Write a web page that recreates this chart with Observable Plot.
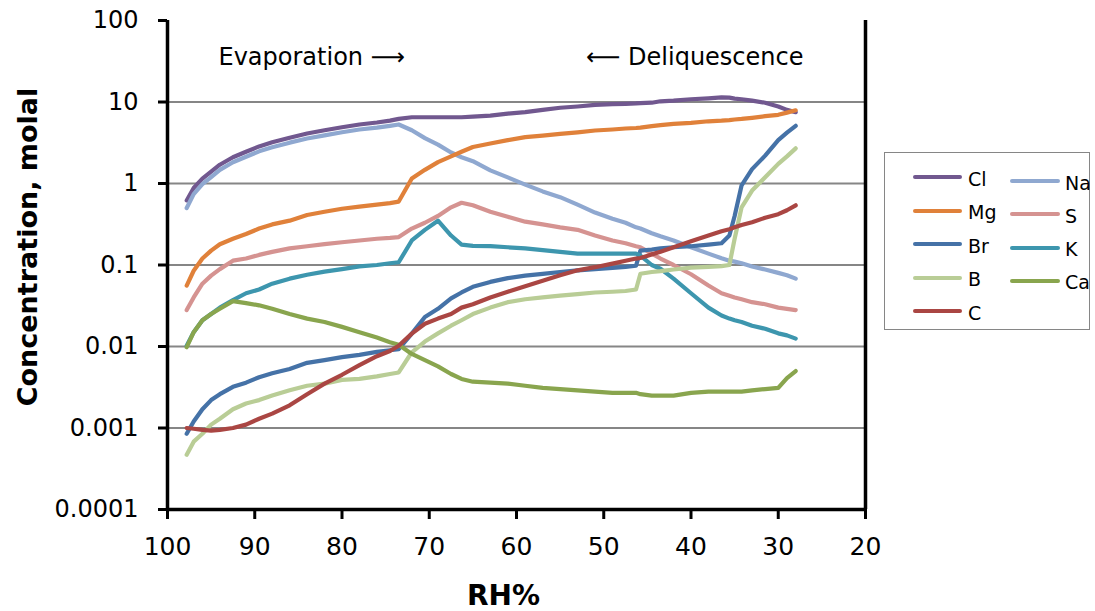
<!DOCTYPE html>
<html>
<head>
<meta charset="utf-8">
<script src="https://cdn.jsdelivr.net/npm/d3@7"></script>
<script src="https://cdn.jsdelivr.net/npm/@observablehq/plot@0.6"></script>
<style>
  body { margin: 0; background: #fff; }
  #wrap { position: relative; width: 1095px; height: 611px; overflow: hidden; }
  #legend { position: absolute; left: 884px; top: 152px; width: 206px; height: 178px;
            border: 1.5px solid #868686; box-sizing: border-box; background: #fff;
            font-family: 'DejaVu Sans', sans-serif; font-size: 19px; color: #000; }
  .sw { position: absolute; height: 4px; border-radius: 2px; }
  .lb { position: absolute; line-height: 1; transform: translateY(-50%); white-space: nowrap; }
</style>
</head>
<body>
<div id="wrap"><div id="legend"></div></div>
<script>
// Relative humidity grid (%), shared by all series
const rh = [97.8, 97, 96, 95, 94, 92.5, 91, 89.5, 88, 86, 84, 82, 80, 78, 76, 74.5, 73.5, 72, 70.5, 69, 67.5, 66.3, 65, 63, 61, 59, 57, 55, 53, 51, 49, 47.5, 46.3, 45.8, 44.5, 43.5, 42, 40, 38, 36.5, 35.6, 35, 34.2, 33, 31.5, 30, 29, 28];

// Concentrations (molal)
const cl = [0.62, 0.88, 1.15, 1.4, 1.7, 2.1, 2.45, 2.85, 3.2, 3.65, 4.1, 4.5, 4.9, 5.3, 5.6, 5.9, 6.2, 6.5, 6.5, 6.5, 6.5, 6.5, 6.6, 6.8, 7.2, 7.5, 8.0, 8.5, 8.8, 9.2, 9.4, 9.5, 9.6, 9.7, 9.8, 10.2, 10.4, 10.8, 11.1, 11.4, 11.3, 11.0, 10.8, 10.4, 9.8, 8.8, 8.0, 7.5];
const na = [0.5, 0.74, 0.98, 1.2, 1.47, 1.82, 2.13, 2.48, 2.78, 3.17, 3.56, 3.9, 4.25, 4.6, 4.85, 5.1, 5.3, 4.5, 3.6, 3.0, 2.4, 2.1, 1.88, 1.45, 1.19, 0.97, 0.8, 0.68, 0.55, 0.44, 0.37, 0.33, 0.29, 0.28, 0.245, 0.225, 0.2, 0.165, 0.138, 0.121, 0.113, 0.11, 0.105, 0.096, 0.088, 0.08, 0.075, 0.068];
const mg = [0.056, 0.085, 0.12, 0.15, 0.18, 0.21, 0.24, 0.28, 0.315, 0.35, 0.41, 0.45, 0.49, 0.52, 0.55, 0.575, 0.6, 1.15, 1.47, 1.83, 2.15, 2.45, 2.8, 3.1, 3.4, 3.7, 3.87, 4.07, 4.25, 4.47, 4.6, 4.73, 4.8, 4.85, 5.05, 5.2, 5.4, 5.55, 5.8, 5.9, 6.0, 6.1, 6.2, 6.4, 6.7, 6.96, 7.4, 7.9];
const s  = [0.028, 0.04, 0.059, 0.074, 0.089, 0.113, 0.12, 0.133, 0.145, 0.16, 0.17, 0.18, 0.19, 0.2, 0.21, 0.215, 0.22, 0.28, 0.33, 0.4, 0.51, 0.58, 0.54, 0.45, 0.39, 0.34, 0.315, 0.29, 0.27, 0.23, 0.2, 0.185, 0.17, 0.165, 0.138, 0.12, 0.1, 0.077, 0.056, 0.045, 0.042, 0.04, 0.038, 0.035, 0.033, 0.03, 0.029, 0.028];
const br = [0.00085, 0.0012, 0.0017, 0.0022, 0.0026, 0.0032, 0.0036, 0.0042, 0.0047, 0.0053, 0.0063, 0.0068, 0.0074, 0.0079, 0.0086, 0.009, 0.0093, 0.0144, 0.023, 0.029, 0.039, 0.046, 0.054, 0.062, 0.069, 0.074, 0.078, 0.082, 0.086, 0.089, 0.092, 0.095, 0.098, 0.15, 0.155, 0.16, 0.165, 0.17, 0.178, 0.185, 0.23, 0.4, 0.95, 1.5, 2.2, 3.4, 4.2, 5.1];
const k  = [0.0102, 0.015, 0.021, 0.025, 0.03, 0.037, 0.045, 0.05, 0.059, 0.068, 0.076, 0.083, 0.089, 0.096, 0.1, 0.105, 0.108, 0.2, 0.27, 0.35, 0.23, 0.178, 0.172, 0.17, 0.165, 0.16, 0.152, 0.145, 0.138, 0.138, 0.138, 0.138, 0.138, 0.13, 0.1, 0.09, 0.068, 0.045, 0.03, 0.024, 0.022, 0.021, 0.02, 0.018, 0.0165, 0.0145, 0.0137, 0.0125];
const b  = [0.00047, 0.00068, 0.00085, 0.0011, 0.0013, 0.0017, 0.002, 0.0022, 0.0025, 0.0029, 0.0033, 0.0035, 0.0039, 0.004, 0.0043, 0.0046, 0.0048, 0.0085, 0.0115, 0.0145, 0.018, 0.021, 0.025, 0.03, 0.035, 0.038, 0.04, 0.042, 0.044, 0.046, 0.047, 0.048, 0.05, 0.078, 0.082, 0.084, 0.088, 0.093, 0.095, 0.097, 0.1, 0.21, 0.51, 0.82, 1.19, 1.74, 2.15, 2.7];
const ca = [0.0098, 0.015, 0.021, 0.025, 0.029, 0.036, 0.034, 0.032, 0.029, 0.025, 0.022, 0.02, 0.0174, 0.015, 0.0129, 0.0113, 0.0105, 0.0081, 0.0068, 0.0057, 0.0046, 0.004, 0.0037, 0.0036, 0.0035, 0.0033, 0.0031, 0.003, 0.0029, 0.0028, 0.0027, 0.0027, 0.0027, 0.0026, 0.0025, 0.0025, 0.0025, 0.0027, 0.0028, 0.0028, 0.0028, 0.0028, 0.0028, 0.0029, 0.003, 0.0031, 0.0041, 0.005];
const c  = [0.001, 0.00098, 0.00095, 0.00093, 0.00095, 0.001, 0.0011, 0.0013, 0.0015, 0.0019, 0.0026, 0.0035, 0.0045, 0.0059, 0.0076, 0.0088, 0.0102, 0.0144, 0.019, 0.022, 0.025, 0.03, 0.033, 0.04, 0.047, 0.055, 0.064, 0.075, 0.086, 0.094, 0.104, 0.113, 0.12, 0.122, 0.135, 0.145, 0.165, 0.195, 0.23, 0.26, 0.275, 0.29, 0.31, 0.335, 0.38, 0.42, 0.47, 0.54];

// Series names (drawing order) and legend columns
const ions = ["Cl", "Na", "Mg", "S", "Br", "K", "B", "Ca", "C"];
const legendCol1 = ["Cl", "Mg", "Br", "B", "C"];
const legendCol2 = ["Na", "S", "K", "Ca"];

// Axis ticks and labels
const xTicks = [100, 90, 80, 70, 60, 50, 40, 30, 20];
const yTicks = [0.0001, 0.001, 0.01, 0.1, 1, 10, 100];
const yTickLabels = ["0.0001", "0.001", "0.01", "0.1", "1", "10", "100"];
const gridValues = [0.001, 0.01, 0.1, 1, 10];

// Texts
const xTitle = "RH%";
const yTitle = "Concentration, molal";
const noteLeft = "Evaporation \u27F6";
const noteRight = "\u27F5 Deliquescence";

// Colours
const ionColors = ["#71588F", "#8FA8D0", "#E0813A", "#D59391", "#4572A7", "#3D96AE", "#B9CD96", "#89A54E", "#AA4643"];

const values = {Cl: cl, Na: na, Mg: mg, S: s, Br: br, K: k, B: b, Ca: ca, C: c};
const data = ions.flatMap(ion => rh.map((x, i) => ({ion, rh: x, value: values[ion][i]})));

const font = "'DejaVu Sans', sans-serif";

const chart = Plot.plot({
  width: 1095,
  height: 611,
  marginLeft: 167,
  marginRight: 230,
  marginTop: 20,
  marginBottom: 102,
  x: {domain: [100, 20]},
  y: {type: "log", domain: [0.0001, 100]},
  color: {domain: ions, range: ionColors},
  style: {fontFamily: font, fontSize: "24px", color: "#000", background: "#fff", overflow: "visible"},
  marks: [
    Plot.ruleY(gridValues, {stroke: "#868686", strokeWidth: 2}),
    Plot.line(data, {x: "rh", y: "value", z: "ion", stroke: "ion", strokeWidth: 4.2,
                     strokeLinejoin: "round", strokeLinecap: "round"}),
    Plot.ruleX([100, 20], {stroke: "#000", strokeWidth: 3.5}),
    Plot.ruleY([0.0001], {stroke: "#000", strokeWidth: 3.5}),
    Plot.axisY({ticks: yTicks, tickFormat: d => yTickLabels[yTicks.indexOf(d)],
                tickSize: 9, tickPadding: 20, strokeWidth: 3, stroke: "#000",
                fontSize: 24, label: null}),
    Plot.axisX({ticks: xTicks, tickFormat: d => String(d), tickSize: 10, tickPadding: 18,
                strokeWidth: 3, stroke: "#000", fontSize: 25, label: null}),
    Plot.text([noteLeft], {frameAnchor: "top-left", dx: 51, dy: 37, textAnchor: "start",
                           lineAnchor: "middle", fontSize: 24, fill: "#000"}),
    Plot.text([noteRight], {frameAnchor: "top-right", dx: -62, dy: 37, textAnchor: "end",
                            lineAnchor: "middle", fontSize: 24, fill: "#000"}),
    Plot.text([xTitle], {frameAnchor: "bottom", dx: -13, dy: 87, fontSize: 28,
                         textAnchor: "middle", lineAnchor: "middle",
                         fontWeight: "bold", fill: "#000"}),
    Plot.text([yTitle], {frameAnchor: "left", dx: -139, dy: -18, rotate: -90, fontSize: 27,
                         textAnchor: "middle", lineAnchor: "middle",
                         fontWeight: "bold", fill: "#000"})
  ]
});

const wrap = document.getElementById("wrap");
wrap.insertBefore(chart, wrap.firstChild);

// Legend
const legend = document.getElementById("legend");
const colorOf = Object.fromEntries(ions.map((d, i) => [d, ionColors[i]]));
function addItem(name, lineLeft, lineWidth, textLeft, y) {
  const sw = document.createElement("div");
  sw.className = "sw";
  sw.style.left = lineLeft + "px";
  sw.style.width = lineWidth + "px";
  sw.style.top = (y - 2) + "px";
  sw.style.background = colorOf[name];
  legend.appendChild(sw);
  const lb = document.createElement("div");
  lb.className = "lb";
  lb.style.left = textLeft + "px";
  lb.style.top = (y + 1.5) + "px";
  lb.textContent = name;
  legend.appendChild(lb);
}
legendCol1.forEach((name, i) => addItem(name, 28, 49, 83, 24 + 33.6 * i));
legendCol2.forEach((name, i) => addItem(name, 125, 50, 180, 28 + 33.3 * i));
</script>
</body>
</html>
